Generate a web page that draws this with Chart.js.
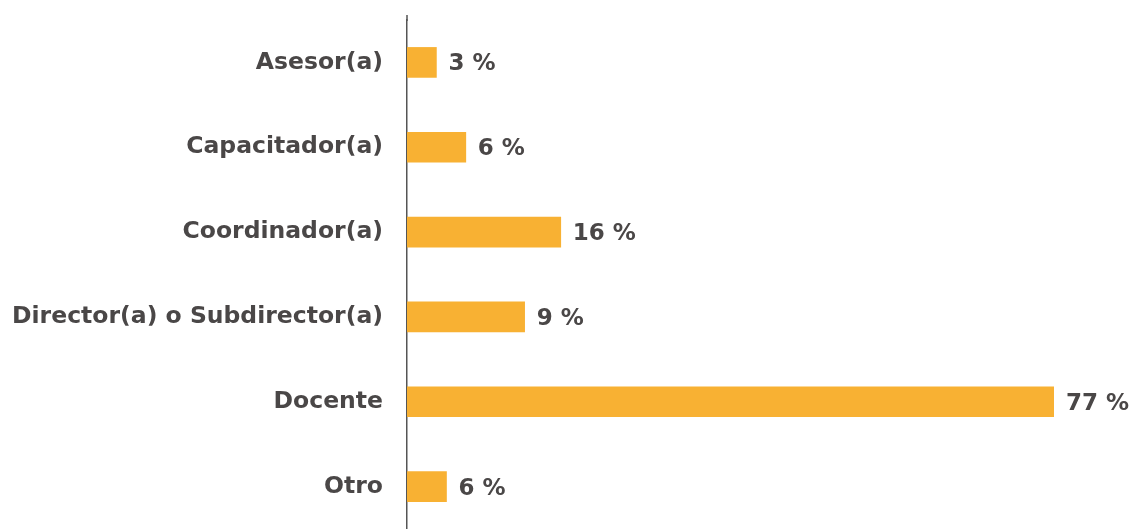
<!DOCTYPE html>
<html>
<head>
<meta charset="utf-8">
<script src="https://cdn.jsdelivr.net/npm/chart.js@4/dist/chart.umd.min.js"></script>
<style>
  body { margin: 0; background: #fff; }
</style>
</head>
<body>
<canvas id="grafico" width="1131" height="529"></canvas>
<script>
const categorias = ['Asesor(a)', 'Capacitador(a)', 'Coordinador(a)', 'Director(a) o Subdirector(a)', 'Docente', 'Otro'];
// largo de las barras (no siempre coincide con la etiqueta)
const valores = [3.5, 7.0, 18.3, 14.0, 77, 4.7];
const etiquetas = ['3 %', '6 %', '16 %', '9 %', '77 %', '6 %'];

const fuente = '"DejaVu Sans", sans-serif';
const gris = '#4a4747';

const etiquetasBarras = {
    id: 'etiquetasBarras',
    afterDatasetsDraw(chart) {
        const ctx = chart.ctx;
        const barras = chart.getDatasetMeta(0).data;
        ctx.save();
        ctx.font = 'bold 23px ' + fuente;
        ctx.fillStyle = gris;
        ctx.textBaseline = 'middle';
        ctx.textAlign = 'left';
        barras.forEach((barra, i) => {
            ctx.fillText(etiquetas[i], barra.x + 12, barra.y + 2);
        });
        ctx.restore();
    }
};

// el eje sube un poco mas arriba que la primera barra
const ejeArriba = {
    id: 'ejeArriba',
    afterDraw(chart) {
        const ctx = chart.ctx;
        const x = chart.chartArea.left;
        ctx.save();
        ctx.strokeStyle = '#555';
        ctx.lineWidth = 1.5;
        ctx.beginPath();
        ctx.moveTo(x, 15);
        ctx.lineTo(x, chart.chartArea.top + 1);
        ctx.stroke();
        ctx.restore();
    }
};

new Chart(document.getElementById('grafico'), {
    type: 'bar',
    data: {
        labels: categorias,
        datasets: [{
            data: valores,
            backgroundColor: '#f8b133',
            barThickness: 30
        }]
    },
    options: {
        indexAxis: 'y',
        responsive: false,
        animation: false,
        layout: { padding: { top: 20, right: 77, bottom: 0, left: 0 } },
        plugins: {
            legend: { display: false },
            tooltip: { enabled: false }
        },
        scales: {
            x: {
                display: false,
                min: 0,
                max: 77
            },
            y: {
                afterFit(escala) {
                    escala.width = 407;
                    escala.paddingTop = 0;
                    escala.paddingBottom = 0;
                },
                grid: { display: false },
                border: { color: '#555', width: 1.5 },
                ticks: {
                    padding: 16,
                    color: gris,
                    font: { family: fuente, size: 23.5, weight: 'bold', lineHeight: 1 }
                }
            }
        }
    },
    plugins: [etiquetasBarras, ejeArriba]
});
</script>
</body>
</html>
